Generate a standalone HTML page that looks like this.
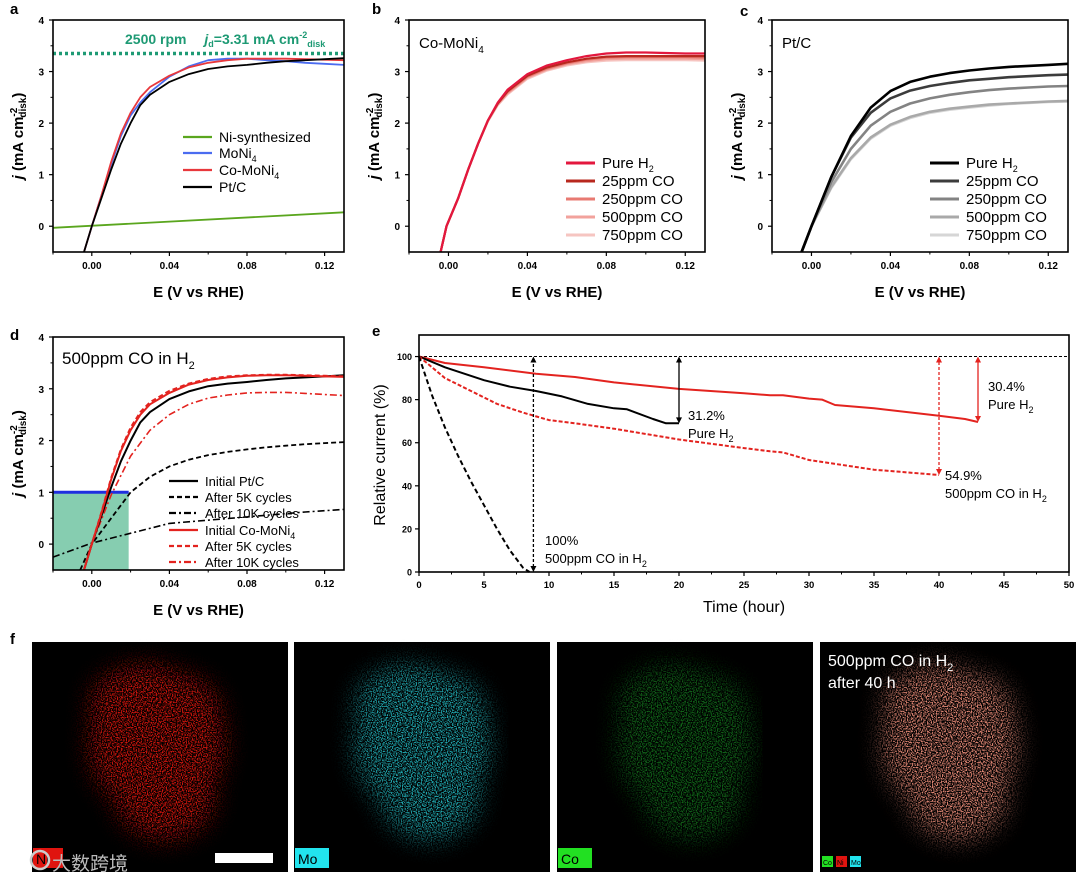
<!DOCTYPE html>
<html><head><meta charset="utf-8"><style>
html,body{margin:0;padding:0;background:#fff;}
svg{display:block;font-family:"Liberation Sans","Noto Sans CJK SC",sans-serif;}
</style></head><body>
<svg id="fig" width="1080" height="882" viewBox="0 0 1080 882" xmlns="http://www.w3.org/2000/svg">
<defs>
<filter id="speckle" x="-30%" y="-30%" width="160%" height="160%">
<feTurbulence type="fractalNoise" baseFrequency="0.8" numOctaves="1" seed="3" result="n"/>
<feColorMatrix in="n" type="matrix" values="0 0 0 0 0 0 0 0 0 0 0 0 0 0 0 5 0 0 0 -2.2" result="a"/>
<feComposite in="SourceGraphic" in2="a" operator="in"/>
</filter>
<filter id="blur6" x="-50%" y="-50%" width="200%" height="200%"><feGaussianBlur stdDeviation="12"/></filter>
</defs>
<g id="root"></g>
</svg>
<script>
// ---------- DATA ----------
const aE = [-0.004,0,0.005,0.01,0.015,0.02,0.025,0.03,0.04,0.05,0.06,0.07,0.08,0.09,0.1,0.11,0.12,0.13];
const aPt = [-0.5,0,0.55,1.1,1.6,2.0,2.35,2.55,2.8,2.95,3.05,3.1,3.13,3.17,3.2,3.22,3.24,3.26];
const aCo = [-0.5,0,0.6,1.25,1.8,2.2,2.5,2.7,2.92,3.08,3.17,3.22,3.25,3.25,3.25,3.24,3.23,3.22];
const aMo = [-0.5,0,0.6,1.2,1.75,2.15,2.4,2.6,2.9,3.1,3.22,3.25,3.25,3.22,3.2,3.17,3.15,3.13];
const aNiE = [-0.02,0.13];
const aNi = [-0.03,0.27];
const aLimit = 3.35;

const bE = [-0.004,-0.001,0.005,0.01,0.015,0.02,0.025,0.03,0.04,0.05,0.06,0.07,0.08,0.09,0.1,0.11,0.12,0.13];
const bPure = [-0.5,0,0.55,1.1,1.6,2.05,2.4,2.65,2.95,3.12,3.22,3.3,3.35,3.37,3.37,3.36,3.35,3.35];
const b25 = [-0.5,0,0.55,1.1,1.6,2.05,2.38,2.62,2.92,3.08,3.18,3.25,3.29,3.3,3.3,3.3,3.3,3.3];
const b250 = [-0.5,0,0.55,1.1,1.6,2.05,2.38,2.6,2.9,3.06,3.16,3.23,3.27,3.28,3.28,3.28,3.28,3.27];
const b500 = [-0.5,0,0.55,1.1,1.6,2.04,2.36,2.58,2.88,3.04,3.14,3.2,3.24,3.25,3.25,3.25,3.25,3.24];
const b750 = [-0.5,0,0.55,1.1,1.6,2.03,2.35,2.56,2.86,3.02,3.12,3.18,3.21,3.22,3.22,3.22,3.22,3.21];

const cE = [-0.005,0,0.01,0.02,0.03,0.04,0.05,0.06,0.07,0.08,0.09,0.1,0.11,0.12,0.13];
const cPure = [-0.5,0,0.95,1.75,2.3,2.62,2.8,2.9,2.97,3.02,3.06,3.09,3.11,3.13,3.15];
const c25 = [-0.5,0,0.95,1.72,2.2,2.48,2.63,2.72,2.78,2.83,2.86,2.89,2.91,2.93,2.94];
const c250 = [-0.5,0,0.85,1.5,1.95,2.22,2.38,2.48,2.55,2.6,2.64,2.67,2.69,2.71,2.72];
const c500 = [-0.5,0,0.76,1.32,1.72,1.97,2.12,2.22,2.28,2.32,2.36,2.38,2.4,2.42,2.43];
const c750 = [-0.5,0,0.74,1.3,1.7,1.95,2.1,2.2,2.26,2.3,2.34,2.37,2.39,2.41,2.42];

const dE = [-0.004,0,0.005,0.01,0.015,0.02,0.025,0.03,0.04,0.05,0.06,0.07,0.08,0.09,0.1,0.11,0.12,0.13];
const dPt0 = [-0.5,0,0.55,1.1,1.6,2.0,2.35,2.55,2.8,2.95,3.05,3.1,3.13,3.17,3.2,3.22,3.24,3.26];
const dCo0 = [-0.5,0,0.6,1.25,1.8,2.2,2.5,2.7,2.92,3.08,3.17,3.22,3.25,3.26,3.26,3.25,3.24,3.23];
const dCo5 = [-0.5,0,0.62,1.28,1.83,2.25,2.55,2.74,2.96,3.1,3.19,3.24,3.26,3.27,3.27,3.26,3.25,3.24];
const dCo10E = [-0.004,0,0.01,0.02,0.03,0.04,0.05,0.06,0.07,0.08,0.09,0.1,0.11,0.12,0.13];
const dCo10 = [-0.5,0,0.95,1.7,2.2,2.5,2.7,2.82,2.88,2.92,2.93,2.93,2.91,2.89,2.87];
const dPt5E = [-0.006,0,0.01,0.02,0.03,0.04,0.05,0.06,0.07,0.08,0.09,0.1,0.11,0.12,0.13];
const dPt5 = [-0.5,0,0.5,1.0,1.3,1.5,1.63,1.72,1.78,1.83,1.87,1.9,1.93,1.95,1.97];
const dPt10E = [-0.02,0.0,0.04,0.11,0.13];
const dPt10 = [-0.25,0.02,0.4,0.62,0.67];
const dRefJ = 1;
const dRefE = 0.019;

const eTPtH = [0,2,5,7,9,11,13,15,16,18,19,20];
const ePtH = [100,95,89,86,84,81.5,78,76,75.5,71,69,69];
const eTPtCO = [0,1,2,3,4,5,6,7,8,8.5];
const ePtCO = [100,82,67,54,42,31,20,10,2,0];
const eTCoH = [0,2,5,9,12,15,20,25,27,28,30,31,32,35,40,42,43];
const eCoH = [100,97,95,92,90.5,88,85,83,82,82,80.5,80,77.5,76,72.5,71,69.6];
const eTCoCO = [0,1,2,4,6,8,10,12,15,20,25,27,28,30,35,37,40];
const eCoCO = [100,95,90,84,78,74,70.5,69,66.5,61.5,57.5,56,55.5,52,47.5,46.5,45];
const eXTicks = [0,5,10,15,20,25,30,35,40,45,50];
const eYTicks = [0,20,40,60,80,100];

// ---------- HELPERS ----------
const NS="http://www.w3.org/2000/svg";
const root=document.getElementById('root');
function mk(tag,attrs,parent){const e=document.createElementNS(NS,tag);for(const k in attrs)e.setAttribute(k,attrs[k]);(parent||root).appendChild(e);return e;}
function txt(x,y,s,attrs,parent){const t=mk('text',Object.assign({x:x,y:y},attrs||{}),parent);t.textContent=s;return t;}

function makeAxes(P){
  P.sx=v=>P.x0+(v-P.xmin)/(P.xmax-P.xmin)*(P.x1-P.x0);
  P.sy=v=>P.yb+(P.ymin-v)/(P.ymax-P.ymin)*(P.yb-P.yt);
}
function path(P,xs,ys,stroke,w,dash,name,g){
  let d='';for(let i=0;i<xs.length;i++){d+=(i?'L':'M')+P.sx(xs[i]).toFixed(1)+','+P.sy(ys[i]).toFixed(1);}
  const p=mk('path',{d:d,fill:'none',stroke:stroke,'stroke-width':w,'stroke-linejoin':'round'},g);
  if(dash)p.setAttribute('stroke-dasharray',dash);
  
  
  return p;
}
function frame(P,g){
  const r=mk('rect',{x:P.x0,y:P.yt,width:P.x1-P.x0,height:P.yb-P.yt,fill:'none',stroke:'#000','stroke-width':1.6},g);
  
  
}
function evAxes(P,g){
  const xt=[0,0.04,0.08,0.12], xm=[-0.02,0.02,0.06,0.1];
  xt.forEach(v=>{const x=P.sx(v);mk('line',{x1:x,x2:x,y1:P.yb,y2:P.yb+4,stroke:'#000','stroke-width':1.2},g);
    const t=txt(x,P.yb+17,v.toFixed(2),{'font-size':10,'font-weight':'bold','text-anchor':'middle'},g);
    
    });
  xm.forEach(v=>{const x=P.sx(v);mk('line',{x1:x,x2:x,y1:P.yb,y2:P.yb+2.5,stroke:'#000','stroke-width':1},g);});
  [0,1,2,3,4].forEach(v=>{const y=P.sy(v);mk('line',{x1:P.x0-4,x2:P.x0,y1:y,y2:y,stroke:'#000','stroke-width':1.2},g);
    const t=txt(P.x0-9,y+4,String(v),{'font-size':10,'font-weight':'bold','text-anchor':'end'},g);
    
    });
  [0.5,1.5,2.5,3.5].forEach(v=>{const y=P.sy(v);mk('line',{x1:P.x0-2.5,x2:P.x0,y1:y,y2:y,stroke:'#000','stroke-width':1},g);});
  const xt2=txt((P.x0+P.x1)/2,P.yb+45,'E (V vs RHE)',{'font-size':15,'font-weight':'bold','text-anchor':'middle'},g);
  
  
  const cy=(P.yt+P.yb)/2;
  const yt=mk('text',{x:0,y:0,'font-size':15,'font-weight':'bold','text-anchor':'middle',transform:'translate('+(P.x0-30)+','+cy+') rotate(-90)'},g);
  yt.innerHTML='<tspan font-style="italic">j</tspan> (mA cm<tspan font-size="10" dy="-6">-2</tspan><tspan font-size="10" dy="9" dx="-10">disk</tspan><tspan dy="-3">)</tspan>';
  
  
}
function legend(items,x,ys,fs,g){
  items.forEach((it,i)=>{
    const l=mk('line',{x1:x,x2:x+29,y1:ys[i]-5,y2:ys[i]-5,stroke:it.c,'stroke-width':it.w||2.2},g);
    if(it.dash)l.setAttribute('stroke-dasharray',it.dash);
    
    
    const t=mk('text',{x:x+36,y:ys[i],'font-size':fs},g);
    t.innerHTML=it.t;
    
    
  });
}
function letter(x,y,s){const t=txt(x,y,s,{'font-size':15,'font-weight':'bold'});}

// ---------- PANEL A ----------
const gA=mk('g',{});
const PA={x0:53,x1:344,yt:20,yb:252,xmin:-0.02,xmax:0.13,ymin:-0.5,ymax:4};makeAxes(PA);
path(PA,[-0.02,0.13],[aLimit,aLimit],'#1e9a74',3.5,'3 3','limit-current-line',gA);
path(PA,aNiE,aNi,'#5aa61e',1.8,null,'ni-synthesized-line',gA);
path(PA,aE,aMo,'#4b6cf0',1.8,null,'moni4-line',gA);
path(PA,aE,aCo,'#e8383c',1.8,null,'co-moni4-line',gA);
path(PA,aE,aPt,'#000',1.8,null,'ptc-line',gA);
frame(PA,gA);evAxes(PA,gA);
(function(){const t=mk('text',{x:125,y:44,'font-size':14,'font-weight':'bold',fill:'#1e9a74'},gA);
t.innerHTML='2500 rpm <tspan dx="14" font-style="italic">j</tspan><tspan font-size="9" dy="3">d</tspan><tspan dy="-3">=3.31 mA cm</tspan><tspan font-size="9" dy="-6">-2</tspan><tspan font-size="9" dy="9">disk</tspan>';
})();
legend([{t:'Ni-synthesized',c:'#5aa61e'},{t:'MoNi<tspan font-size="9" dy="4">4</tspan>',c:'#4b6cf0'},{t:'Co-MoNi<tspan font-size="9" dy="4">4</tspan>',c:'#e8383c'},{t:'Pt/C',c:'#000'}],183,[142,158,175,192],14,gA);
letter(10,14,'a');

// ---------- PANEL B ----------
const gB=mk('g',{});
const PB={x0:409,x1:705,yt:20,yb:252,xmin:-0.02,xmax:0.13,ymin:-0.5,ymax:4};makeAxes(PB);
const bCols=['#e3173e','#b8281e','#e87a72','#f2a29c','#f6c5c1'];
path(PB,bE,b750,bCols[4],2.2,null,'750ppm-co-line',gB);
path(PB,bE,b500,bCols[3],2.2,null,'500ppm-co-line',gB);
path(PB,bE,b250,bCols[2],2.2,null,'250ppm-co-line',gB);
path(PB,bE,b25,bCols[1],2.2,null,'25ppm-co-line',gB);
path(PB,bE,bPure,bCols[0],2.2,null,'pure-h2-line',gB);
frame(PB,gB);evAxes(PB,gB);
(function(){const t=mk('text',{x:419,y:48,'font-size':15},gB);t.innerHTML='Co-MoNi<tspan font-size="10" dy="5">4</tspan>';})();
const legItems=(cols)=>[{t:'Pure H<tspan font-size="9" dy="4">2</tspan>',c:cols[0],w:3},{t:'25ppm CO',c:cols[1],w:3},{t:'250ppm CO',c:cols[2],w:3},{t:'500ppm CO',c:cols[3],w:3},{t:'750ppm CO',c:cols[4],w:3}];
legend(legItems(bCols),566,[168,186,204,222,240],15,gB);
letter(372,14,'b');

// ---------- PANEL C ----------
const gC=mk('g',{});
const PC={x0:772,x1:1068,yt:20,yb:252,xmin:-0.02,xmax:0.13,ymin:-0.5,ymax:4};makeAxes(PC);
const cCols=['#000','#3c3c3c','#838383','#a9a9a9','#d6d6d6'];
path(PC,cE,c750,cCols[4],2.6,null,'750ppm-co-line',gC);
path(PC,cE,c500,cCols[3],2.6,null,'500ppm-co-line',gC);
path(PC,cE,c250,cCols[2],2.6,null,'250ppm-co-line',gC);
path(PC,cE,c25,cCols[1],2.6,null,'25ppm-co-line',gC);
path(PC,cE,cPure,cCols[0],2.6,null,'pure-h2-line',gC);
frame(PC,gC);evAxes(PC,gC);
(function(){const t=txt(782,48,'Pt/C',{'font-size':15},gC);})();
legend(legItems(cCols),930,[168,186,204,222,240],15,gC);
letter(740,16,'c');

// ---------- PANEL D ----------
const gD=mk('g',{});
const PD={x0:53,x1:344,yt:337,yb:570,xmin:-0.02,xmax:0.13,ymin:-0.5,ymax:4};makeAxes(PD);
(function(){const r=mk('rect',{x:PD.sx(-0.02),y:PD.sy(dRefJ),width:PD.sx(dRefE)-PD.sx(-0.02),height:PD.sy(-0.5)-PD.sy(dRefJ),fill:'#86cdb0'},gD);
})();
path(PD,[-0.02,dRefE],[dRefJ,dRefJ],'#1f2ee0',3,null,'reference-current-line',gD);
path(PD,dPt10E,dPt10,'#000',1.6,'7 3 2 3','ptc-10k-line',gD);
path(PD,dPt5E,dPt5,'#000',1.8,'5 3','ptc-5k-line',gD);
path(PD,dCo10E,dCo10,'#e3231f',1.6,'7 3 2 3','co-moni4-10k-line',gD);
path(PD,dE,dPt0,'#000',2,null,'ptc-initial-line',gD);
path(PD,dE,dCo5,'#e3231f',2,'5 3','co-moni4-5k-line',gD);
path(PD,dE,dCo0,'#e3231f',2,null,'co-moni4-initial-line',gD);
frame(PD,gD);evAxes(PD,gD);
(function(){const t=mk('text',{x:62,y:364,'font-size':17},gD);t.innerHTML='500ppm CO in H<tspan font-size="11" dy="5">2</tspan>';})();
legend([{t:'Initial Pt/C',c:'#000'},{t:'After 5K cycles',c:'#000',dash:'5 3'},{t:'After 10K cycles',c:'#000',dash:'7 3 2 3'},{t:'Initial Co-MoNi<tspan font-size="9" dy="4">4</tspan>',c:'#e3231f'},{t:'After 5K cycles',c:'#e3231f',dash:'5 3'},{t:'After 10K cycles',c:'#e3231f',dash:'7 3 2 3'}],169,[486,502,518,535,551,567],13,gD);
letter(10,340,'d');

// ---------- PANEL E ----------
const gE=mk('g',{});
const PE={x0:419,x1:1069,yt:335,yb:572,xmin:0,xmax:50,ymin:0,ymax:110};makeAxes(PE);
path(PE,[0,50],[100,100],'#000',1,'3 2','reference-100-line',gE);
path(PE,eTCoH,eCoH,'#e3231f',2,null,'co-moni4-pure-h2-line',gE);
path(PE,eTPtH,ePtH,'#000',2,null,'ptc-pure-h2-line',gE);
path(PE,eTCoCO,eCoCO,'#e3231f',2,'4 2','co-moni4-co-line',gE);
path(PE,eTPtCO,ePtCO,'#000',2,'5 3','ptc-co-line',gE);
frame(PE,gE);
eXTicks.forEach(v=>{const x=PE.sx(v);mk('line',{x1:x,x2:x,y1:PE.yb,y2:PE.yb+4,stroke:'#000','stroke-width':1.2},gE);
  const t=txt(x,PE.yb+16,String(v),{'font-size':9.5,'font-weight':'bold','text-anchor':'middle'},gE);
  });
eXTicks.slice(0,-1).forEach(v=>{const x=PE.sx(v+2.5);mk('line',{x1:x,x2:x,y1:PE.yb,y2:PE.yb+2.5,stroke:'#000','stroke-width':1},gE);});
eYTicks.forEach(v=>{const y=PE.sy(v);mk('line',{x1:PE.x0-4,x2:PE.x0,y1:y,y2:y,stroke:'#000','stroke-width':1.2},gE);
  const t=txt(PE.x0-7,y+3.5,String(v),{'font-size':9,'font-weight':'bold','text-anchor':'end'},gE);
  });
(function(){const t=txt(744,612,'Time (hour)',{'font-size':16,'text-anchor':'middle'},gE);
const y=txt(0,0,'Relative current (%)',{'font-size':16,'text-anchor':'middle',transform:'translate(385,455) rotate(-90)'},gE);})();
function arrow(t,v0,v1,col,dash,name){
  const x=PE.sx(t),ya=PE.sy(v0),yb=PE.sy(v1);
  const l=mk('line',{x1:x,x2:x,y1:ya-5,y2:yb+5,stroke:col,'stroke-width':1.3},gE);if(dash)l.setAttribute('stroke-dasharray',dash);
  
  
  mk('path',{d:`M${x-3},${yb+6}L${x},${yb}L${x+3},${yb+6}Z`,fill:col},gE);
  mk('path',{d:`M${x-3},${ya-6}L${x},${ya}L${x+3},${ya-6}Z`,fill:col},gE);
}
arrow(8.8,0,100,'#000','3 2','arrow-ptc-co');
arrow(20,69,100,'#000',null,'arrow-ptc-h2');
arrow(40,45,100,'#e3231f','3 2','arrow-co-moni4-co');
arrow(43,69.6,100,'#e3231f',null,'arrow-co-moni4-h2');
function ann(x,y,l1,l2,name){const t=txt(x,y,l1,{'font-size':13},gE);
  const u=mk('text',{x:x,y:y+18,'font-size':13},gE);u.innerHTML=l2;}
ann(688,420,'31.2%','Pure H<tspan font-size="9" dy="4">2</tspan>','annotation-31-2');
ann(988,391,'30.4%','Pure H<tspan font-size="9" dy="4">2</tspan>','annotation-30-4');
ann(945,480,'54.9%','500ppm CO in H<tspan font-size="9" dy="4">2</tspan>','annotation-54-9');
ann(545,545,'100%','500ppm CO in H<tspan font-size="9" dy="4">2</tspan>','annotation-100');
letter(372,336,'e');

// ---------- PANEL F ----------
letter(10,644,'f');
const maps=[{x:32,c:'#e0140f',name:'ni-map',lab:'Ni',lc:'#e0140f',op:0.95},{x:294,c:'#27c6cf',name:'mo-map',lab:'Mo',lc:'#22e4ee',op:0.85},{x:557,c:'#1fa82a',name:'co-map',lab:'Co',lc:'#22e022',op:0.6},{x:820,c:'#f0907c',name:'overlay-map',lab:'',lc:'',op:0.95}];
maps.forEach((m,i)=>{
  const g=mk('g',{});
  mk('rect',{x:m.x,y:642,width:256,height:230,fill:'#000'},g);
  const blobG=mk('g',{filter:'url(#speckle)'},g);
  const inner=mk('g',{filter:'url(#blur6)',fill:m.c,opacity:m.op},blobG);
  const cx=m.x+(i==0?125:i==3?130:128);
  mk('ellipse',{cx:cx,cy:745,rx:68,ry:70},inner);
  mk('ellipse',{cx:cx+8,cy:795,rx:50,ry:45},inner);
  mk('ellipse',{cx:cx-12,cy:705,rx:55,ry:40},inner);
  mk('ellipse',{cx:cx+25,cy:720,rx:40,ry:45},inner);
  if(m.lab){const r=mk('rect',{x:m.x+1,y:848,width:m.lab=='Ni'?30:34,height:20,fill:m.lc},g);
    const t=txt(m.x+4,864,m.lab,{'font-size':14,fill:'#000'},g);}
});
(function(){const s=mk('rect',{x:215,y:853,width:58,height:10,fill:'#fff'});
const w=txt(52,870,'大数跨境',{'font-size':19,fill:'#bbb'});
const c1=mk('circle',{cx:40,cy:860,r:9,fill:'none',stroke:'#ccc','stroke-width':2.5});
const t1=mk('text',{x:828,y:666,'font-size':16,fill:'#fff'});t1.innerHTML='500ppm CO in H<tspan font-size="11" dy="5">2</tspan>';
const t2=txt(828,688,'after 40 h',{'font-size':16,fill:'#fff'});
[['Co','#22e022',822],['Ni','#e0140f',836],['Mo','#22e4ee',850]].forEach(a=>{const r=mk('rect',{x:a[2],y:856,width:11,height:11,fill:a[1]});
const t=txt(a[2]+1,865,a[0],{'font-size':7,fill:'#000'});});
})();
</script>
</body></html>
